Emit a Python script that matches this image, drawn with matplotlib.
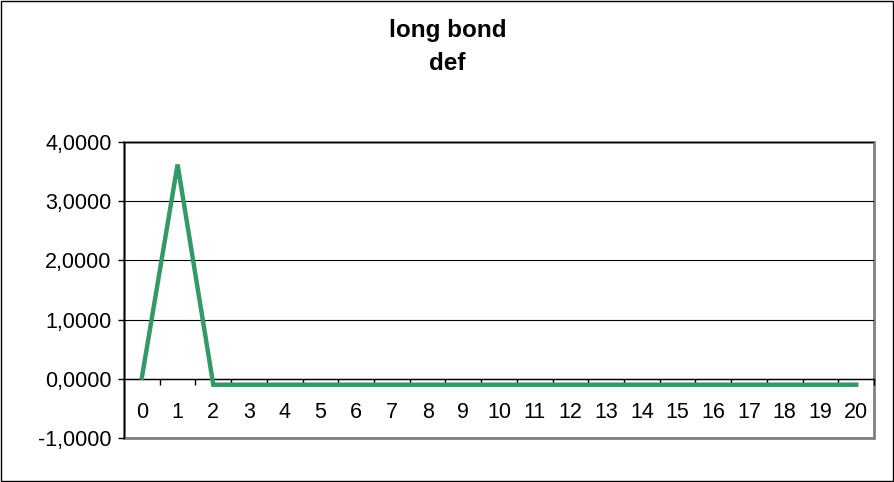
import matplotlib.pyplot as plt
from matplotlib.patches import Rectangle
from matplotlib.ticker import FixedLocator, FuncFormatter

plt.rcParams['font.family'] = ['Liberation Sans', 'DejaVu Sans']

periods = list(range(21))
deflator = [0.02, 3.62, -0.10, -0.10, -0.10, -0.10, -0.10, -0.10, -0.10, -0.10,
            -0.10, -0.10, -0.10, -0.10, -0.10, -0.10, -0.10, -0.10, -0.10, -0.10, -0.10]
title_lines = ['long bond', 'def']

fig = plt.figure(figsize=(8.95, 4.82), dpi=100)
fig.patches.append(Rectangle((0.001, 0.002), 0.997, 0.996, transform=fig.transFigure,
                             fill=False, edgecolor='black', linewidth=1.0))

ax = fig.add_axes([124 / 895, 44 / 482, 750 / 895, 296 / 482])
ax.patch.set_edgecolor('#808080')
ax.patch.set_linewidth(2)

ax.plot(periods, deflator, color='#339966', linewidth=3.2, solid_joinstyle='miter', zorder=3)

ax.set_xlim(-0.5, 20.5)
ax.set_ylim(-1, 4)
ax.set_yticks([-1, 0, 1, 2, 3, 4])
ax.yaxis.set_major_formatter(FuncFormatter(lambda v, p: f'{v:.4f}'.replace('.', ',')))
ax.grid(axis='y', color='black', linewidth=0.8)
ax.set_axisbelow(True)

# category axis crosses at zero, ticks between categories, labels centered
ax.spines['bottom'].set_position(('data', 0))
ax.spines['top'].set_visible(False)
ax.spines['right'].set_visible(False)
ax.spines['left'].set_linewidth(1.0)
ax.spines['bottom'].set_linewidth(1.0)
ax.xaxis.set_major_locator(FixedLocator([i + 0.5 for i in periods]))
ax.xaxis.set_major_formatter(FuncFormatter(lambda v, p: ''))
ax.xaxis.set_minor_locator(FixedLocator(periods))
ax.xaxis.set_minor_formatter(FuncFormatter(lambda v, p: f'{int(round(v))}'))
ax.tick_params(axis='x', which='major', direction='out', length=4, width=1)
ax.tick_params(axis='x', which='minor', length=0, pad=17, labelsize=15.5)
ax.tick_params(axis='y', direction='out', length=4, width=1, pad=5, labelsize=15.5)

fig.text(0.5, 1 - 31 / 482, title_lines[0], ha='center', va='center',
         fontsize=17.5, fontweight='bold')
fig.text(0.5, 1 - 64 / 482, title_lines[1], ha='center', va='center',
         fontsize=17.5, fontweight='bold')

fig.savefig('out.png', dpi=100)
